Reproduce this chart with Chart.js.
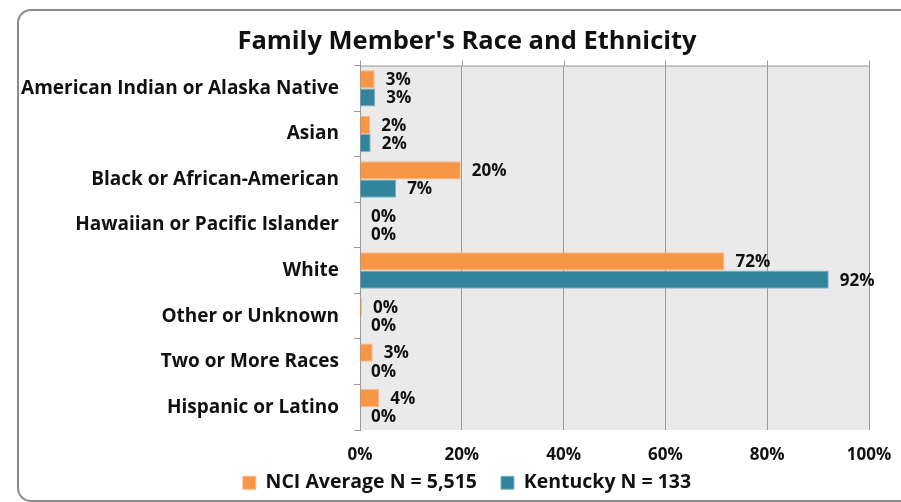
<!DOCTYPE html>
<html>
<head>
<meta charset="utf-8">
<script src="https://cdn.jsdelivr.net/npm/chart.js@4"></script>
<style>
  html, body { margin: 0; padding: 0; background: #fff; overflow: hidden; }
  #frame { position: absolute; left: 17px; top: 9px; width: 940px; height: 489px;
           border: 2px solid #8c8c8c; border-radius: 14px; }
  #wrap { position: absolute; left: 0; top: 0; width: 901px; height: 502px; }
</style>
</head>
<body>
<div id="frame"></div>
<div id="wrap"><canvas id="raceChart"></canvas></div>
<script>
const categories = ['American Indian or Alaska Native', 'Asian', 'Black or African-American',
  'Hawaiian or Pacific Islander', 'White', 'Other or Unknown', 'Two or More Races', 'Hispanic or Latino']
const nciValues = [2.9, 2.0, 19.8, 0, 71.6, 0.4, 2.5, 3.8]
const kyValues = [3.0, 2.1, 7.1, 0, 92.1, 0, 0, 0]
const xTicks = [0, 20, 40, 60, 80, 100]

const FONT = "'Open Sans', sans-serif"

// gray plot background + top edge line with little ticks above it
const plotBg = {
    id: 'plotBg',
    beforeLayout(chart) {
        // legend sits tight under the axis labels
        const lg = chart.legend
        if (lg && !lg._fixedFit) {
            const fit = lg.fit
            lg.fit = function () { fit.call(this); this.height = 53 }
            lg._fixedFit = true
        }
    },
    beforeDraw(chart) {
        const { ctx, chartArea: a } = chart
        ctx.save()
        ctx.fillStyle = '#eaeaea'
        ctx.fillRect(a.left, a.top, a.right - a.left, a.bottom - a.top)
        ctx.restore()
    },
    afterDraw(chart) {
        const { ctx, chartArea: a, scales } = chart
        ctx.save()
        ctx.strokeStyle = '#9a9a9a'
        ctx.lineWidth = 1
        ctx.beginPath()
        ctx.moveTo(a.left, a.top + 0.5)
        ctx.lineTo(a.right, a.top + 0.5)
        xTicks.forEach(v => {
            const x = Math.round(scales.x.getPixelForValue(v)) + 0.5
            ctx.moveTo(x, a.top - 5)
            ctx.lineTo(x, a.top)
        })
        ctx.stroke()
        ctx.restore()
    }
}

// value labels at the end of each bar
const barLabels = {
    id: 'barLabels',
    afterDatasetsDraw(chart) {
        const ctx = chart.ctx
        ctx.save()
        ctx.font = 'bold 17px ' + FONT
        ctx.fillStyle = '#111'
        ctx.textAlign = 'left'
        ctx.textBaseline = 'middle'
        chart.data.datasets.forEach((ds, i) => {
            chart.getDatasetMeta(i).data.forEach((bar, j) => {
                ctx.fillText(Math.round(ds.data[j]) + '%', bar.x + 11, bar.y + 1)
            })
        })
        ctx.restore()
    }
}

const data = {
    labels: categories,
    datasets: [
        {
            label: 'NCI Average N = 5,515',
            data: nciValues,
            backgroundColor: '#f79646',
            borderColor: '#fbb98a',
            borderWidth: 1,
            categoryPercentage: 0.8,
            barPercentage: 1
        },
        {
            label: 'Kentucky N = 133',
            data: kyValues,
            backgroundColor: '#31849b',
            borderColor: '#7fb3c2',
            borderWidth: 1,
            categoryPercentage: 0.8,
            barPercentage: 1
        }
    ]
}

const config = {
    type: 'bar',
    data: data,
    plugins: [plotBg, barLabels],
    options: {
        indexAxis: 'y',
        responsive: false,
        animation: false,
        layout: { padding: { left: 65, right: 32, top: 26, bottom: 0 } },
        scales: {
            x: {
                min: 0,
                max: 100,
                afterBuildTicks(axis) { axis.ticks = xTicks.map(v => ({ value: v })) },
                afterFit(axis) {
                    axis.height = 19
                    axis._computeLabelArea = () => undefined
                },
                // invisible tick marks only push the labels down
                grid: { color: '#9a9a9a', lineWidth: 1, drawTicks: true, tickLength: 7, tickColor: 'rgba(0,0,0,0)' },
                border: { display: false },
                ticks: {
                    padding: 8,
                    color: '#111',
                    font: { family: FONT, size: 17, weight: 'bold' },
                    callback: v => v + '%'
                }
            },
            y: {
                afterFit(axis) {
                    axis.width = 295
                    // long labels reach past the left padding, don't clip them
                    axis._computeLabelArea = () => undefined
                },
                grid: { drawOnChartArea: false, drawTicks: true, tickLength: 6, color: '#9a9a9a', offset: true },
                border: { color: '#9a9a9a' },
                ticks: {
                    padding: 15,
                    color: '#111',
                    font: { family: FONT, size: 19, weight: 'bold' }
                }
            }
        },
        plugins: {
            legend: {
                position: 'bottom',
                labels: {
                    boxWidth: 13,
                    boxHeight: 13,
                    padding: 24,
                    color: '#111',
                    font: { family: FONT, size: 19.5, weight: 'bold' }
                }
            },
            title: {
                display: true,
                text: "Family Member's Race and Ethnicity",
                color: '#111',
                padding: { top: 0, bottom: 9 },
                font: { family: FONT, size: 25.5, weight: 'bold' }
            },
            tooltip: { enabled: false }
        }
    }
}

const canvas = document.getElementById('raceChart')
canvas.width = 901
canvas.height = 502
const raceChart = new Chart(canvas.getContext('2d'), config)
</script>
</body>
</html>
